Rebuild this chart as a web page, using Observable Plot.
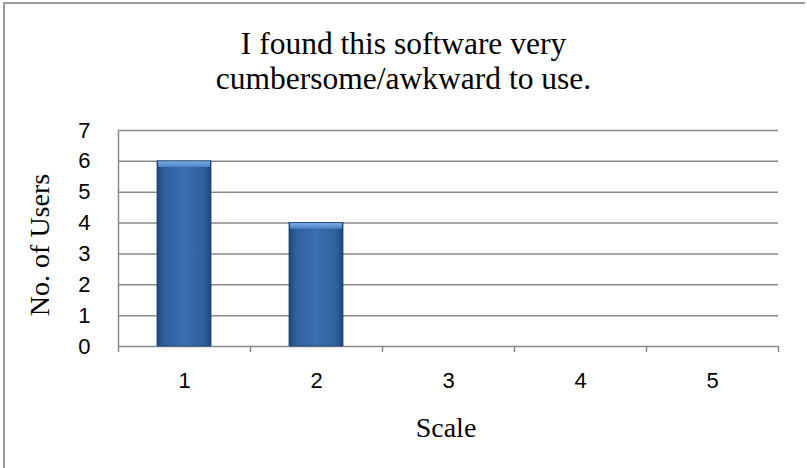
<!DOCTYPE html>
<html>
<head>
<meta charset="utf-8">
<script src="https://cdn.jsdelivr.net/npm/d3@7"></script>
<script src="https://cdn.jsdelivr.net/npm/@observablehq/plot@0.6"></script>
<style>
  html, body { margin: 0; padding: 0; background: #fff; }
  #chart { position: relative; width: 807px; height: 468px; overflow: hidden; }
  #frame { position: absolute; left: 3px; top: 2px; width: 802px; height: 470px;
           border-left: 2px solid #9a9a9a; border-top: 2px solid #9a9a9a; box-sizing: border-box; }
  .serif { position: absolute; font-family: "Liberation Serif", "Times New Roman", serif; color: #000; white-space: nowrap; }
  #title { left: 0; width: 807px; top: 26px; text-align: center; font-family: "Liberation Serif", serif; font-size: 31.5px; line-height: 35px; }
  #ylabel { left: 40px; top: 245px; font-size: 28px; transform: translate(-50%, -50%) rotate(-90deg); }
  #xlabel { left: 446px; top: 428px; font-size: 28px; transform: translate(-50%, -50%); }
  #plot { position: absolute; left: 0; top: 0; }
</style>
</head>
<body>
<div id="chart">
  <div id="frame"></div>
  <div id="title" class="serif">I found this software very<br>cumbersome/awkward to use.</div>
  <div id="ylabel" class="serif">No. of Users</div>
  <div id="xlabel" class="serif">Scale</div>
  <div id="plot"></div>
</div>
<script>
// Survey responses: number of users choosing each point on the scale
const categories = [1, 2, 3, 4, 5];
const users = [6, 4, 0, 0, 0];
const yTicks = [0, 1, 2, 3, 4, 5, 6, 7];

const rows = categories.map((c, i) => ({scale: c, users: users[i]}));
const lo = d3.min(categories) - 0.5;
const hi = d3.max(categories) + 0.5;
const boundaries = d3.range(lo, hi + 0.01, 1);

// Gradients and shadow used by the bars
const defs = () => {
  const g = d3.create("svg:defs");
  const body = g.append("linearGradient").attr("id", "barBody").attr("x1", 0).attr("x2", 1).attr("y1", 0).attr("y2", 0);
  body.append("stop").attr("offset", "0%").attr("stop-color", "#1d4676");
  body.append("stop").attr("offset", "12%").attr("stop-color", "#2f5f9c");
  body.append("stop").attr("offset", "50%").attr("stop-color", "#3a6fb2");
  body.append("stop").attr("offset", "88%").attr("stop-color", "#2f5f9c");
  body.append("stop").attr("offset", "100%").attr("stop-color", "#1d4676");
  const cap = g.append("linearGradient").attr("id", "barCap").attr("x1", 0).attr("x2", 0).attr("y1", 0).attr("y2", 1);
  cap.append("stop").attr("offset", "0%").attr("stop-color", "#78aae6");
  cap.append("stop").attr("offset", "100%").attr("stop-color", "#4f86c8");
  const f = g.append("filter").attr("id", "shadow").attr("x", "-30%").attr("y", "-10%").attr("width", "160%").attr("height", "120%");
  f.append("feDropShadow").attr("dx", 0).attr("dy", 0).attr("stdDeviation", 3).attr("flood-color", "#000").attr("flood-opacity", 0.25);
  return g.node();
};

const bandInset = 39;
const nonzero = d => d.users > 0;
const tickFont = {fontSize: 22, fontFamily: "'Liberation Sans', Arial, sans-serif", fill: "#000"};

const plot = Plot.plot({
  width: 807,
  height: 468,
  marginLeft: 118,
  marginRight: 29,
  marginTop: 130,
  marginBottom: 122,
  x: {type: "linear", domain: [lo, hi], label: null},
  y: {domain: [0, d3.max(yTicks)], label: null},
  style: {color: "#000", background: "transparent", fontSize: "22px"},
  marks: [
    defs,
    Plot.gridY(yTicks, {stroke: "#8a8a8a", strokeOpacity: 1, strokeWidth: 1.5}),
    Plot.ruleX([lo], {stroke: "#8a8a8a", strokeWidth: 1.5}),
    Plot.axisX(boundaries, {tickSize: 6, stroke: "#8a8a8a", strokeWidth: 1.5, tickFormat: () => "", label: null}),
    Plot.axisX(categories, {tickSize: 0, tickPadding: 26, tickFormat: d => String(d), label: null, ...tickFont}),
    Plot.axisY(yTicks, {tickSize: 0, tickPadding: 28, tickFormat: d => String(d), label: null, ...tickFont}),
    Plot.rectY(rows, {
      filter: nonzero,
      x1: d => d.scale - 0.5, x2: d => d.scale + 0.5, y: "users",
      insetLeft: bandInset, insetRight: bandInset,
      fill: "url(#barBody)", stroke: "#1b3f6a", strokeWidth: 0.8,
      style: "filter: url(#shadow)"
    }),
    Plot.rectY(rows, {
      filter: nonzero,
      x1: d => d.scale - 0.5, x2: d => d.scale + 0.5, y1: "users", y2: "users",
      insetLeft: bandInset + 1, insetRight: bandInset + 1, insetTop: 0.5, insetBottom: -6,
      fill: "url(#barCap)"
    })
  ]
});
document.getElementById("plot").appendChild(plot);
</script>
</body>
</html>
